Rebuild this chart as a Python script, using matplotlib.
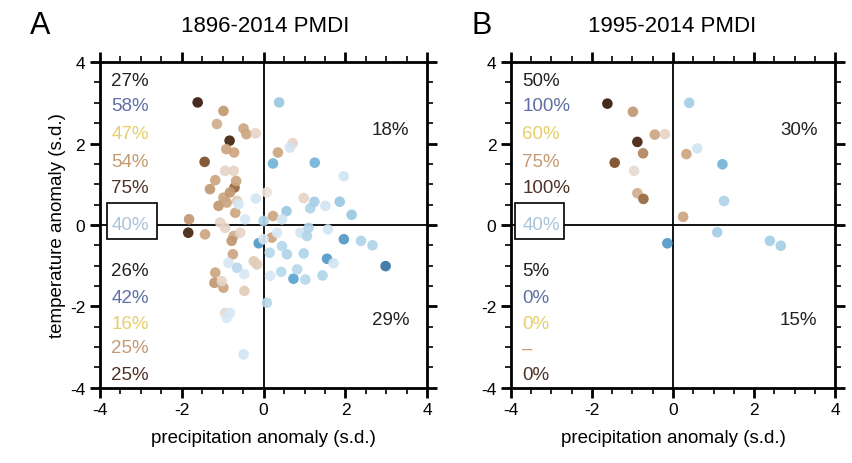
import matplotlib
matplotlib.use("Agg")
import matplotlib.pyplot as plt
from matplotlib.colors import LinearSegmentedColormap
from matplotlib.patches import Rectangle
from matplotlib.ticker import MultipleLocator

plt.rcParams['font.family'] = ['Liberation Sans', 'DejaVu Sans']
plt.rcParams['axes.unicode_minus'] = False

# panel A: 1896-2014 (precip anomaly, temp anomaly, shade -1 brown .. +1 blue)
a_precip = [-1.61, -0.83, -1.44, -1.84, -0.71,
            -0.98, -1.14, -0.49, -0.42, -0.19, -0.91, -0.72, -0.94, -0.73, -1.18,
            -0.67, -1.31, -0.98, -0.82, -1.10, -0.90, -0.65, -0.69, -1.82, -1.43,
            -1.06, -0.94, -0.73, -0.78, -0.57, -0.75, -1.18, -1.20, -0.98, -1.02,
            -0.47, -0.24, -0.16, 0.23, 0.20, 0.35, 0.71, 0.98, 0.08, -0.94,
            0.38, 0.64, 0.23, 1.25, 1.96, -0.19, 0.56, 1.14, 1.24, 1.51,
            1.86, 2.15, 0.00, 0.45, 0.90, 1.10, 1.06, 1.57, 1.96, 2.38,
            2.66, -0.12, 2.98, 1.55, 1.71, 0.98, 0.57, 0.15, 0.45, 0.73,
            1.02, 1.44, 0.43, 0.82, 0.16, 0.08, -0.65, -0.86, -0.47, -0.90,
            -0.82, -0.49, -0.45, -0.61, 0.00, 0.33]
a_temp = [3.01, 2.07, 1.55, -0.19, 0.92,
          2.80, 2.48, 2.37, 2.23, 2.25, 1.86, 1.78, 1.33, 1.33, 1.10,
          1.08, 0.88, 0.67, 0.80, 0.47, 0.55, 0.59, 0.30, 0.14, -0.23,
          0.06, -0.07, -0.27, -0.39, -0.19, -0.72, -1.17, -1.42, -1.54, -1.38,
          -1.62, -0.89, -0.97, 0.22, -0.31, 1.78, 2.01, 0.66, 0.80, -2.16,
          3.01, 1.90, 1.51, 1.53, 1.20, 0.65, 0.34, 0.41, 0.57, 0.47,
          0.57, 0.25, 0.10, 0.14, -0.19, -0.07, -0.27, -0.11, -0.35, -0.39,
          -0.50, -0.45, -1.01, -0.83, -0.94, -0.70, -0.72, -0.68, -0.52, -1.32,
          -1.34, -1.24, -1.15, -1.09, -1.25, -1.91, -1.05, -0.93, -1.21, -2.28,
          -2.16, -3.18, 0.14, 0.51, -0.35, -0.19]
a_shade = [-1.0, -0.95, -0.75, -0.95, -0.65,
           -0.5, -0.4, -0.45, -0.45, -0.2, -0.45, -0.45, -0.2, -0.2, -0.45,
           -0.45, -0.5, -0.45, -0.5, -0.5, -0.45, -0.25, -0.45, -0.5, -0.45,
           -0.2, -0.2, -0.4, -0.5, -0.2, -0.45, -0.45, -0.5, -0.45, -0.2,
           -0.25, -0.25, -0.25, -0.45, -0.45, -0.45, -0.2, -0.2, -0.1, -0.15,
           0.45, 0.15, 0.6, 0.6, 0.15, 0.15, 0.45, 0.35, 0.4, 0.15,
           0.45, 0.45, 0.35, 0.15, 0.15, 0.35, 0.35, 0.15, 0.75, 0.35,
           0.35, 0.75, 0.95, 0.75, 0.15, 0.35, 0.35, 0.3, 0.3, 0.7,
           0.3, 0.35, 0.3, 0.3, 0.12, 0.3, 0.3, 0.12, 0.12, 0.12,
           0.12, 0.15, 0.12, 0.12, 0.12, 0.12]

# panel B: 1995-2014
b_precip = [-1.62, -0.99, -0.45, -0.20, -0.88, -0.74, -1.44, -0.96, -0.88, -0.73,
            0.33, 0.25, 0.40, 0.60, 1.22, 1.26, 1.09, -0.14, 2.39, 2.66]
b_temp = [2.98, 2.78, 2.22, 2.23, 2.04, 1.76, 1.53, 1.33, 0.78, 0.64,
          1.74, 0.20, 3.00, 1.88, 1.49, 0.59, -0.18, -0.45, -0.39, -0.51]
b_shade = [-1.0, -0.5, -0.45, -0.2, -0.95, -0.55, -0.75, -0.15, -0.4, -0.65,
           -0.45, -0.45, 0.4, 0.15, 0.6, 0.35, 0.4, 0.75, 0.4, 0.4]

titles = ["1896-2014 PMDI", "1995-2014 PMDI"]
letters = ["A", "B"]
upper_left = [["27%", "58%", "47%", "54%", "75%"], ["50%", "100%", "60%", "75%", "100%"]]
lower_left = [["26%", "42%", "16%", "25%", "25%"], ["5%", "0%", "0%", "\u2013", "0%"]]
boxed = ["40%", "40%"]
upper_right = ["18%", "30%"]
lower_right = ["29%", "15%"]
text_colors = ["#222222", "#5f6fa3", "#e6cf6a", "#c49a72", "#4e3226"]
box_color = "#a9c3da"

cmap = LinearSegmentedColormap.from_list("brbu", [
    (0.0, "#351a0a"), (0.1, "#6b3e1c"), (0.18, "#9a6a40"), (0.27, "#cba37f"),
    (0.4, "#e6d4c6"), (0.5, "#f2f2f2"), (0.55, "#dbeaf4"), (0.7, "#a6cfe6"),
    (0.85, "#5aa4d0"), (1.0, "#2d6a9a")])

narrow = ['Liberation Sans Narrow', 'Liberation Sans', 'DejaVu Sans']

fig = plt.figure(figsize=(8.53, 4.64), dpi=100)
ax_a = fig.add_axes([0.117, 0.162, 0.384, 0.702])
ax_b = fig.add_axes([0.599, 0.162, 0.380, 0.702])

panels = [(ax_a, a_precip, a_temp, a_shade), (ax_b, b_precip, b_temp, b_shade)]
for i, (ax, px, ty, sh) in enumerate(panels):
    ax.axhline(0, color="black", lw=1.3, zorder=1)
    ax.axvline(0, color="black", lw=1.3, zorder=1)
    ax.scatter(px, ty, c=sh, cmap=cmap, vmin=-1, vmax=1, s=58,
               edgecolors="none", alpha=0.92, zorder=2)
    ax.set_xlim(-4, 4)
    ax.set_ylim(-4, 4)
    ax.xaxis.set_major_locator(MultipleLocator(2))
    ax.yaxis.set_major_locator(MultipleLocator(2))
    ax.xaxis.set_minor_locator(MultipleLocator(0.5))
    ax.yaxis.set_minor_locator(MultipleLocator(0.5))
    ax.tick_params(which="both", direction="out", top=True, right=True,
                   labelsize=12.5)
    ax.tick_params(which="major", length=7, width=2)
    ax.tick_params(which="minor", length=4, width=1.2)
    for s in ax.spines.values():
        s.set_linewidth(2)
    ax.set_xlabel("precipitation anomaly (s.d.)", fontsize=13.5, labelpad=8)

    # quadrant percentages
    ys_up = [3.54, 2.93, 2.25, 1.57, 0.92]
    ys_lo = [-1.13, -1.79, -2.43, -3.02, -3.67]
    for t, y, c in zip(upper_left[i], ys_up, text_colors):
        ax.text(-3.72, y, t, color=c, fontsize=13.5, va="center", ha="left")
    for t, y, c in zip(lower_left[i], ys_lo, text_colors):
        ax.text(-3.72, y, t, color=c, fontsize=13.5, va="center", ha="left")
    ax.text(-3.72, 0.0, boxed[i], color=box_color, fontsize=13.5, va="center",
            ha="left", zorder=4)
    bx = -3.82 if i == 0 else -3.9
    ax.add_patch(Rectangle((bx, -0.35), 1.22, 0.88, fill=True, fc="white",
                           ec="black", lw=1.2, zorder=3))
    ax.text(3.1, 2.35, upper_right[i], fontsize=13.5, ha="center", va="center",
            color="#222222")
    ax.text(3.1, -2.32, lower_right[i], fontsize=13.5, ha="center", va="center",
            color="#222222")

ax_a.set_ylabel("temperature anomaly (s.d.)", fontsize=13.5, labelpad=3)

fig.text(265 / 853, 1 - 26 / 464, titles[0], fontsize=16, family=narrow,
         ha="center", va="center")
fig.text(672 / 853, 1 - 26 / 464, titles[1], fontsize=16, family=narrow,
         ha="center", va="center")
fig.text(40 / 853, 1 - 26 / 464, letters[0], fontsize=22, family=narrow,
         ha="center", va="center")
fig.text(482 / 853, 1 - 26 / 464, letters[1], fontsize=22, family=narrow,
         ha="center", va="center")

fig.savefig("out.png", dpi=100)
